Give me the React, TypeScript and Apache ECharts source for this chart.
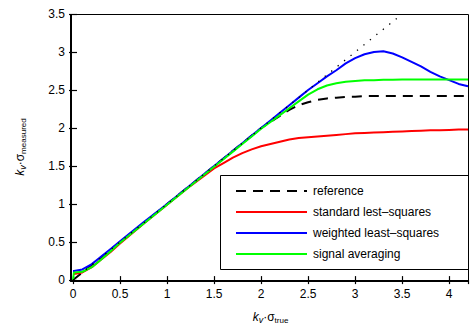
import React, { useEffect, useRef } from "react";
import * as echarts from "echarts";

const X = [0, 0.01, 0.1, 0.2, 0.3, 0.4, 0.5, 0.75, 1.0, 1.25, 1.5, 1.6, 1.7, 1.8, 1.9, 2.0, 2.1, 2.2, 2.3, 2.4, 2.5, 2.6, 2.7, 2.8, 2.9, 3.0, 3.1, 3.2, 3.3, 3.4, 3.5, 3.6, 3.7, 3.8, 3.9, 4.0, 4.1, 4.2];
const REFERENCE = [0, 0.01, 0.1, 0.2, 0.3, 0.4, 0.5, 0.75, 1.0, 1.25, 1.5, 1.6, 1.7, 1.8, 1.9, 2.0, 2.08, 2.16, 2.24, 2.3, 2.34, 2.37, 2.39, 2.4, 2.41, 2.41, 2.42, 2.42, 2.42, 2.42, 2.42, 2.42, 2.42, 2.42, 2.42, 2.42, 2.42, 2.42];
const STANDARD_LS = [0.08, 0.08, 0.1, 0.17, 0.27, 0.37, 0.48, 0.74, 0.99, 1.24, 1.47, 1.54, 1.61, 1.67, 1.72, 1.76, 1.79, 1.82, 1.85, 1.87, 1.88, 1.89, 1.9, 1.91, 1.92, 1.93, 1.935, 1.94, 1.945, 1.95, 1.955, 1.96, 1.965, 1.97, 1.97, 1.975, 1.98, 1.98];
const WEIGHTED_LS = [0.12, 0.12, 0.14, 0.21, 0.31, 0.41, 0.51, 0.76, 1.0, 1.25, 1.5, 1.6, 1.7, 1.8, 1.9, 2.0, 2.1, 2.2, 2.3, 2.4, 2.5, 2.59, 2.68, 2.76, 2.85, 2.92, 2.97, 3.0, 3.01, 2.98, 2.93, 2.87, 2.81, 2.74, 2.68, 2.63, 2.58, 2.55];
const SIGNAL_AVG = [0, 0.1, 0.11, 0.17, 0.27, 0.38, 0.49, 0.74, 0.99, 1.24, 1.49, 1.59, 1.69, 1.79, 1.89, 1.99, 2.08, 2.17, 2.26, 2.35, 2.44, 2.51, 2.56, 2.59, 2.61, 2.62, 2.63, 2.63, 2.635, 2.635, 2.64, 2.64, 2.64, 2.64, 2.64, 2.64, 2.64, 2.64];
const IDENTITY_X = [0, 3.5];
const IDENTITY_Y = [0, 3.5];
const SERIES_NAMES = ["reference", "standard lest–squares", "weighted least–squares", "signal averaging"];

const pairs = (xs: number[], ys: number[]) => xs.map((x, i) => [x, ys[i]]);

const FONT = "Liberation Sans, Arial, sans-serif";

export default function App() {
  const ref = useRef<HTMLDivElement>(null);
  useEffect(() => {
    if (!ref.current) return;
    const chart = echarts.init(ref.current, null, { renderer: "svg" });
    const rich = {
      it: { fontFamily: FONT, fontSize: 12, fontStyle: "italic", color: "#000", lineHeight: 14 },
      n: { fontFamily: FONT, fontSize: 12, color: "#000", lineHeight: 14 },
      sub: { fontFamily: FONT, fontSize: 8, color: "#000", lineHeight: 8, padding: [10, 0, 0, 0], verticalAlign: "bottom" },
      subi: { fontFamily: FONT, fontSize: 9, fontStyle: "italic", color: "#000", lineHeight: 9, padding: [10, 0, 0, 0], verticalAlign: "bottom" },
    };
    const axisCommon = {
      type: "value" as const,
      axisLine: { show: false },
      axisTick: { show: true, inside: true, length: 4, lineStyle: { color: "#000", width: 1.2 } },
      splitLine: { show: false },
    };
    const lineBase = { type: "line", showSymbol: false, symbol: "none", xAxisIndex: 0, yAxisIndex: 0 };
    chart.setOption({
      animation: false,
      textStyle: { fontFamily: FONT },
      grid: { left: 70, top: 14, right: 4, bottom: 48, containLabel: false },
      xAxis: [
        {
          ...axisCommon,
          position: "bottom",
          min: 0,
          max: 4.2,
          interval: 0.5,
          axisLabel: { show: true, color: "#000", fontSize: 12, fontFamily: FONT, margin: 8, showMaxLabel: false },
          name: "{it|k}{subi|v}{n|·σ}{sub|true}",
          nameLocation: "middle",
          nameGap: 28,
          nameTextStyle: { rich },
        },
        {
          ...axisCommon,
          position: "top",
          min: 0,
          max: 4.2,
          interval: 0.5,
          axisLabel: { show: false },
        },
      ],
      yAxis: [
        {
          ...axisCommon,
          position: "left",
          min: 0,
          max: 3.5,
          interval: 0.5,
          axisLabel: { show: true, color: "#000", fontSize: 12, fontFamily: FONT, margin: 8 },
          name: "{it|k}{subi|v}{n|·σ}{sub|measured}",
          nameLocation: "middle",
          nameGap: 46,
          nameRotate: 90,
          nameTextStyle: { rich },
        },
        {
          ...axisCommon,
          position: "right",
          min: 0,
          max: 3.5,
          interval: 0.5,
          axisLabel: { show: false },
        },
      ],
      legend: {
        show: true,
        z: 20,
        data: SERIES_NAMES,
        orient: "vertical",
        left: 235,
        top: 184,
        padding: 0,
        itemWidth: 71,
        itemHeight: 2,
        itemGap: 7,
        textStyle: { fontFamily: FONT, fontSize: 12, color: "#000", lineHeight: 14, padding: [0, 0, 0, 1] },
        inactiveColor: "#000",
      },
      graphic: [
        {
          type: "rect",
          z: 30,
          shape: { x: 70.5, y: 14.5, width: 398, height: 267 },
          style: { fill: "none", stroke: "#000", lineWidth: 1 },
          silent: true,
        },
        {
          type: "line",
          z: 100,
          shape: { x1: 71.25, y1: 14, x2: 71.25, y2: 282 },
          style: { stroke: "#000", lineWidth: 1.5 },
          silent: true,
        },
        {
          type: "line",
          z: 100,
          shape: { x1: 70, y1: 280.75, x2: 469, y2: 280.75 },
          style: { stroke: "#000", lineWidth: 1.5 },
          silent: true,
        },
        {
          type: "rect",
          z: 10,
          shape: { x: 220.5, y: 175.5, width: 248, height: 94 },
          style: { fill: "#fff", stroke: "#000", lineWidth: 1 },
        },
      ],
      series: [
        { ...lineBase, name: SERIES_NAMES[0], data: pairs(X, REFERENCE), lineStyle: { color: "#000", width: 2, type: [10, 7] }, itemStyle: { color: "#000" }, z: 2 },
        { ...lineBase, name: SERIES_NAMES[1], data: pairs(X, STANDARD_LS), lineStyle: { color: "#ff0000", width: 2 }, itemStyle: { color: "#ff0000" }, z: 2 },
        { ...lineBase, name: SERIES_NAMES[2], data: pairs(X, WEIGHTED_LS), lineStyle: { color: "#0000ff", width: 2 }, itemStyle: { color: "#0000ff" }, z: 2 },
        { ...lineBase, name: SERIES_NAMES[3], data: pairs(X, SIGNAL_AVG), lineStyle: { color: "#00ff00", width: 2 }, itemStyle: { color: "#00ff00" }, z: 2 },
        { ...lineBase, name: "identity", data: pairs(IDENTITY_X, IDENTITY_Y), lineStyle: { color: "#000", width: 1.3, type: [1.3, 7] }, itemStyle: { color: "#000" }, z: 3 },
      ],
    });
    return () => chart.dispose();
  }, []);
  return <div ref={ref} style={{ width: 472, height: 329, position: "absolute", left: 0, top: 0 }} />;
}
